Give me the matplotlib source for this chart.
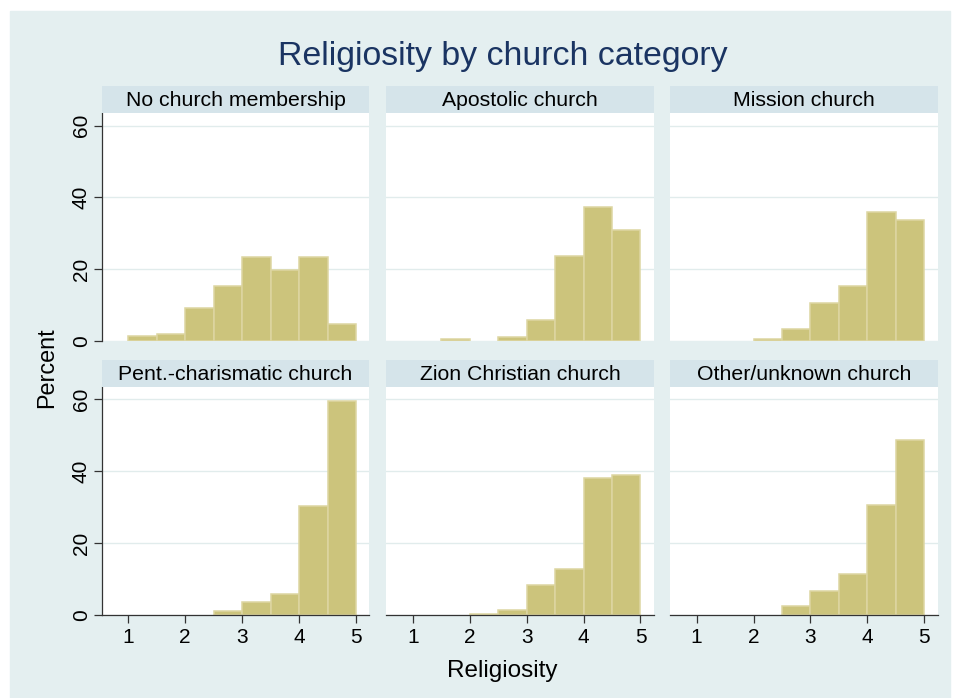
import numpy as np
import matplotlib
matplotlib.use("Agg")
import matplotlib.pyplot as plt
from matplotlib.patches import Rectangle

plt.rcParams['font.family'] = ['Liberation Sans', 'DejaVu Sans']

# histogram bins (religiosity score) and percent per bin
edges = [1.0, 1.5, 2.0, 2.5, 3.0, 3.5, 4.0, 4.5, 5.0]
groups = ["No church membership", "Apostolic church", "Mission church",
          "Pent.-charismatic church", "Zion Christian church", "Other/unknown church"]
no_church = [1.5, 1.9, 9.1, 15.3, 23.4, 19.8, 23.4, 4.7]
apostolic = [0, 0.6, 0, 1.0, 5.8, 23.7, 37.3, 30.8]
mission = [0, 0, 0.5, 3.3, 10.5, 15.2, 35.9, 33.6]
pentecostal = [0, 0, 0, 0.9, 3.4, 5.9, 30.2, 59.6]
zion = [0, 0, 0.3, 1.4, 8.4, 12.8, 38.2, 38.8]
other = [0, 0, 0, 2.3, 6.7, 11.3, 30.6, 48.7]
series = [no_church, apostolic, mission, pentecostal, zion, other]
yticks = [0, 20, 40, 60]
xticks = [1, 2, 3, 4, 5]

W, H = 954, 698
bg = '#e4eff0'
strip_col = '#d5e4ea'
bar_col = '#ccc47c'
bar_edge = '#ddd6a2'
grid_col = '#e1ecec'
axis_col = '#333333'

fig = plt.figure(figsize=(W / 100, H / 100), dpi=100)
fig.patches.append(Rectangle((10 / W, 0), 940 / W, 1 - 11 / H,
                             transform=fig.transFigure, color=bg, zorder=-10))

def box(l, t, w, h):
    # pixel box (top-left origin) -> figure fraction
    return [l / W, 1 - (t + h) / H, w / W, h / H]

col_left = [101.7, 386.2, 670.0]
pw = 267.6
row_top = [113.0, 386.7]
ph = 228.0
strip_h = 27.0

for i, (name, vals) in enumerate(zip(groups, series)):
    r, c = divmod(i, 3)
    ax = fig.add_axes(box(col_left[c], row_top[r], pw, ph))
    ax.set_facecolor('white')
    for y in yticks:
        ax.axhline(y, color=grid_col, lw=1.0, zorder=0)
    lefts = [e for e, v in zip(edges[:-1], vals) if v > 0]
    hts = [v for v in vals if v > 0]
    ax.bar(lefts, hts, width=0.5, align='edge', color=bar_col,
           edgecolor=bar_edge, linewidth=1.1, zorder=2)
    ax.set_xlim(0.532, 5.234)
    ax.set_ylim(0, 63.5)
    for s in ['top', 'right']:
        ax.spines[s].set_visible(False)
    ax.spines['left'].set_visible(c == 0)
    ax.spines['bottom'].set_visible(r == 1)
    ax.spines['left'].set_color(axis_col)
    ax.spines['bottom'].set_color(axis_col)
    ax.spines['left'].set_linewidth(0.9)
    ax.spines['bottom'].set_linewidth(0.9)
    ax.set_yticks(yticks)
    ax.set_xticks(xticks)
    ax.tick_params(axis='both', length=5.8, width=0.9, color=axis_col,
                   labelsize=15, labelcolor='black')
    ax.tick_params(axis='x', pad=4)
    ax.tick_params(axis='y', pad=2)
    if c == 0:
        ax.set_yticklabels([str(t) for t in yticks], rotation=90, va='center')
    else:
        ax.tick_params(axis='y', left=False, labelleft=False)
    if r == 0:
        ax.tick_params(axis='x', bottom=False, labelbottom=False)

    sax = fig.add_axes(box(col_left[c], row_top[r] - strip_h, pw, strip_h))
    sax.set_facecolor(strip_col)
    sax.set_xticks([])
    sax.set_yticks([])
    for s in sax.spines.values():
        s.set_visible(False)
    sax.text(0.5, 7 / strip_h, name, ha='center', va='baseline',
             fontsize=15.3, transform=sax.transAxes)

fig.text(503 / W, 1 - 65 / H, "Religiosity by church category",
         ha='center', va='baseline', fontsize=24.4, color='#1a3462')
fig.text(502 / W, 1 - 677 / H, "Religiosity", ha='center', va='baseline',
         fontsize=17.5)
fig.text(53.5 / W, 1 - 368 / H, "Percent", ha='center', va='baseline',
         rotation=90, rotation_mode='anchor', fontsize=16.8)

fig.savefig("out.png", dpi=100)
